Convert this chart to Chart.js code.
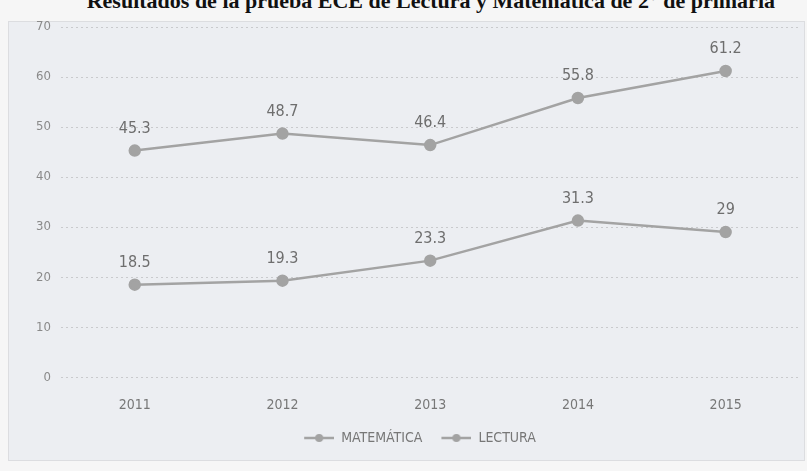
<!DOCTYPE html>
<html>
<head>
<meta charset="utf-8">
<script src="https://cdn.jsdelivr.net/npm/chart.js@4"></script>
<style>
  html, body { margin: 0; padding: 0; background: #f6f6f6; }
  #wrap { position: relative; width: 807px; height: 471px; overflow: hidden; }
  #panel { position: absolute; left: 8px; top: 21px; width: 795px; height: 438px; background: #eceef2; border: 1px solid #dcdde0; }
  #title { position: absolute; left: 0; right: 32px; top: -12px; text-align: right; font: bold 22px "Liberation Serif", "DejaVu Serif", serif; color: #111; white-space: nowrap; }
  canvas { position: absolute; left: 0; top: 0; }
</style>
</head>
<body>
<div id="wrap">
  <div id="panel"></div>
  <div id="title">Resultados de la prueba ECE de Lectura y Matemática de 2° de primaria</div>
  <canvas id="chart" width="807" height="471"></canvas>
</div>
<script>
// datos
const years = ['2011', '2012', '2013', '2014', '2015'];
const matematica = [18.5, 19.3, 23.3, 31.3, 29];
const lectura = [45.3, 48.7, 46.4, 55.8, 61.2];
const yTicks = [0, 10, 20, 30, 40, 50, 60, 70];

const FONT = '"Liberation Sans Narrow", "DejaVu Sans Condensed", "Liberation Sans", sans-serif';
const GRAY = '#a3a3a3';

// marcador de la leyenda: hueco a la izquierda + línea con punto
function legendMarker() {
  const c = document.createElement('canvas');
  c.width = 44;
  c.height = 10;
  const g = c.getContext('2d');
  g.strokeStyle = GRAY;
  g.lineWidth = 2.5;
  g.beginPath();
  g.moveTo(14, 5);
  g.lineTo(44, 5);
  g.stroke();
  g.fillStyle = GRAY;
  g.beginPath();
  g.arc(29, 5, 4, 0, Math.PI * 2);
  g.fill();
  return c;
}
const marker = legendMarker();

// etiquetas de valor encima de cada punto
const valueLabels = {
  id: 'valueLabels',
  afterDatasetsDraw(chart) {
    const ctx = chart.ctx;
    ctx.save();
    ctx.font = '16px ' + FONT;
    ctx.fillStyle = '#6e6e6e';
    ctx.textAlign = 'center';
    ctx.textBaseline = 'bottom';
    chart.data.datasets.forEach((ds, i) => {
      chart.getDatasetMeta(i).data.forEach((pt, j) => {
        ctx.fillText(String(ds.data[j]), pt.x, pt.y - 14);
      });
    });
    ctx.restore();
  }
};

function serie(label, data) {
  return {
    label,
    data,
    borderColor: GRAY,
    backgroundColor: GRAY,
    borderWidth: 2.5,
    pointRadius: 5,
    pointBackgroundColor: GRAY,
    pointBorderColor: GRAY,
    pointStyle: 'circle',
    tension: 0
  };
}

new Chart(document.getElementById('chart'), {
  type: 'line',
  data: {
    labels: years,
    datasets: [serie('MATEMÁTICA', matematica), serie('LECTURA', lectura)]
  },
  options: {
    responsive: false,
    animation: false,
    layout: { padding: { left: 26, right: 7, top: 27, bottom: 16 } },
    plugins: {
      legend: {
        position: 'bottom',
        labels: {
          usePointStyle: true,
          pointStyleWidth: 44,
          generateLabels(chart) {
            return chart.data.datasets.map((ds, i) => ({
              text: ds.label,
              pointStyle: marker,
              fillStyle: GRAY,
              strokeStyle: GRAY,
              fontColor: '#777',
              datasetIndex: i,
              hidden: false
            }));
          },
          color: '#777',
          font: { family: FONT, size: 14 },
          padding: 5
        }
      },
      tooltip: { enabled: false }
    },
    scales: {
      x: {
        offset: true,
        grid: { display: false },
        border: { display: false },
        ticks: { color: '#777', font: { family: FONT, size: 14 }, padding: 12 }
      },
      y: {
        min: 0,
        max: 70,
        afterBuildTicks(axis) { axis.ticks = yTicks.map(v => ({ value: v })); },
        grid: { color: '#c9cacd', lineWidth: 1, drawTicks: false },
        border: { display: false, dash: [2, 3] },
        ticks: { color: '#8a8a8a', font: { family: FONT, size: 13 }, padding: 10 }
      }
    }
  },
  plugins: [valueLabels]
});
</script>
</body>
</html>
